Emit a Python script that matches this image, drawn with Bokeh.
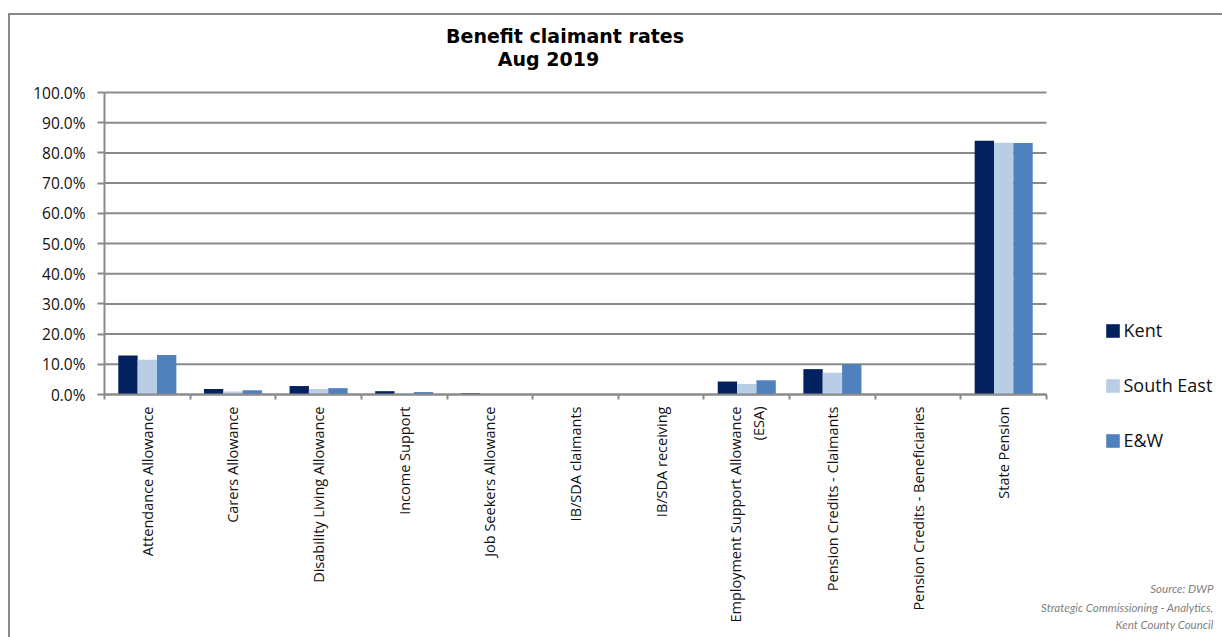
import math
from bokeh.plotting import figure
from bokeh.layouts import column
from bokeh.models import (ColumnDataSource, Range1d, FixedTicker, PrintfTickFormatter,
                          Legend, LegendItem, Label)
from bokeh.transform import dodge
from bokeh.embed import file_html
from bokeh.resources import INLINE

categories = ["Attendance Allowance", "Carers Allowance", "Disability Living Allowance",
              "Income Support", "Job Seekers Allowance", "IB/SDA claimants",
              "IB/SDA receiving", "Employment Support Allowance\n(ESA)",
              "Pension Credits - Claimants", "Pension Credits - Beneficiaries", "State Pension"]
kent = [12.9, 1.8, 2.8, 1.1, 0.4, 0.0, 0.0, 4.3, 8.4, 0.0, 84.0]
south_east = [11.5, 1.0, 1.8, 0.5, 0.0, 0.0, 0.0, 3.5, 7.2, 0.0, 83.4]
e_and_w = [13.1, 1.4, 2.1, 0.8, 0.0, 0.0, 0.0, 4.7, 10.0, 0.0, 83.3]
y_ticks = [0, 10, 20, 30, 40, 50, 60, 70, 80, 90, 100]
series_names = ["Kent", "South East", "E&W"]
colors = ["#03215f", "#b9cde5", "#4f81bd"]
title_lines = ["Benefit claimant rates", "Aug 2019"]
source_lines = ["Source: DWP", "Strategic Commissioning - Analytics,", "Kent County Council"]

n = len(categories)
centers = [i + 0.5 for i in range(n)]
source = ColumnDataSource(dict(x=centers, kent=kent, se=south_east, ew=e_and_w))

GRAY = "#8a8a8a"
FONT = "Open Sans"

# page geometry: canvas starts at (10, 15); plot area x 104..1046, y 92 (100%)..394 (0%)
W, H = 1212, 622
ux = (1046 - 104) / n          # px per category
uy = (394 - 92) / 100.0        # px per percent
x0 = (10 - 104) / ux
x1 = (1222 - 104) / ux
y1 = (394 - 15) / uy
y0 = (394 - 637) / uy

p = figure(width=W, height=H, output_backend="svg", toolbar_location=None,
           x_range=Range1d(x0, x1), y_range=Range1d(y0, y1),
           min_border=0, min_border_left=0, min_border_right=0,
           min_border_top=0, min_border_bottom=0)
p.title.visible = False
p.outline_line_color = None
p.background_fill_color = "white"
p.border_fill_color = "white"
p.xgrid.visible = False
p.ygrid.visible = False

# horizontal gridlines across the category span
p.segment(x0=[0] * len(y_ticks), x1=[n] * len(y_ticks), y0=y_ticks, y1=y_ticks,
          line_color=GRAY, line_width=2)

bw = 0.226
renderers = []
for off, col, c in zip([-bw, 0, bw], ["kent", "se", "ew"], colors):
    r = p.vbar(x=dodge("x", off), top=col, width=bw, source=source,
               fill_color=c, line_color=None)
    renderers.append(r)

# y axis
ya = p.yaxis[0]
ya.fixed_location = 0
ya.ticker = FixedTicker(ticks=y_ticks)
ya.bounds = (0, 100)
ya.formatter = PrintfTickFormatter(format="%.1f%%")
ya.axis_line_color = GRAY
ya.axis_line_width = 2
ya.major_tick_line_color = GRAY
ya.major_tick_line_width = 2
ya.major_tick_out = 7
ya.major_tick_in = 0
ya.minor_tick_line_color = None
ya.major_label_text_font = FONT
ya.major_label_text_font_size = "15.5px"
ya.major_label_text_color = "#111111"
ya.major_label_standoff = 12

# x axis
xa = p.xaxis[0]
xa.fixed_location = 0
xa.bounds = (0, n)
xa.ticker = FixedTicker(ticks=centers, minor_ticks=list(range(n + 1)))
xa.major_label_overrides = {c: name for c, name in zip(centers, categories)}
xa.major_label_orientation = math.pi / 2
xa.axis_line_color = GRAY
xa.axis_line_width = 2
xa.major_tick_line_color = None
xa.major_tick_out = 5
xa.minor_tick_line_color = GRAY
xa.minor_tick_line_width = 2
xa.minor_tick_out = 5
xa.minor_tick_in = 0
xa.major_label_text_font = FONT
xa.major_label_text_font_size = "14.5px"
xa.major_label_text_color = "#111111"
xa.major_label_standoff = 7

# series legend
legend = Legend(items=[LegendItem(label=s, renderers=[r]) for s, r in zip(series_names, renderers)],
                location=(1093.5, 184.5), orientation="vertical",
                glyph_width=17, glyph_height=17, label_height=25, spacing=30,
                label_standoff=3, padding=0, margin=0,
                label_text_font=FONT, label_text_font_size="18px", label_text_color="#111111",
                background_fill_alpha=0, border_line_color=None)
p.add_layout(legend, "center")

# title
for txt, xx, yy in zip(title_lines, [554.5, 538], [602, 578.5]):
    p.add_layout(Label(x=xx, y=yy, x_units="screen", y_units="screen", text=txt,
                       text_align="center", text_baseline="alphabetic",
                       text_font="DejaVu Sans", text_font_style="bold",
                       text_font_size="19px", text_color="black"))

# source note
for txt, yy in zip(source_lines, [49, 30.5, 13.5]):
    p.add_layout(Label(x=1203, y=yy, x_units="screen", y_units="screen", text=txt,
                       text_align="right", text_baseline="alphabetic",
                       text_font="Lato", text_font_style="italic",
                       text_font_size="11.5px", text_color="#7f7f7f"))

layout = column(p, styles={"margin-left": "8px", "margin-top": "13px",
                           "border-left": "2px solid #8a8a8a",
                           "border-top": "2px solid #8a8a8a"})

open("out.html", "w").write(file_html(layout, INLINE))
